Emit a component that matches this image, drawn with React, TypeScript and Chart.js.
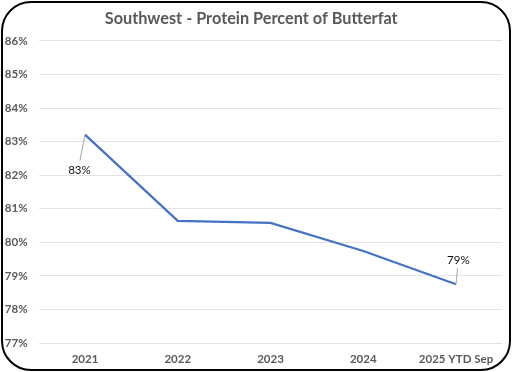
import React, { useEffect, useRef } from "react";
import { Chart, registerables } from "chart.js";

Chart.register(...registerables);

const categories = ["2021", "2022", "2023", "2024", "2025 YTD Sep"];
const proteinPctOfFat = [83.21, 80.64, 80.58, 79.74, 78.75];
const yTicks = [77, 78, 79, 80, 81, 82, 83, 84, 85, 86];
const labelledPoints = [0, 4];
const chartTitle = "Southwest - Protein Percent of Butterfat";

const FONT = "Lato, 'Open Sans', sans-serif";

const dataLabelPlugin = {
  id: "leaderLabels",
  afterDatasetsDraw(chart: any) {
    const meta = chart.getDatasetMeta(0);
    const ctx = chart.ctx;
    ctx.save();
    labelledPoints.forEach((i) => {
      const el = meta.data[i];
      if (!el) return;
      const px = el.x;
      const py = el.y;
      const below = i === 0;
      const lx = below ? px - 5.5 : px + 2.3;
      const ly = below ? py + 36 : py - 23.6;
      const ex = below ? px - 5 : px + 1.5;
      const ey = below ? py + 26 : py - 16;
      ctx.strokeStyle = "#a6a6a6";
      ctx.lineWidth = 1;
      ctx.beginPath();
      ctx.moveTo(px, py);
      ctx.lineTo(ex, ey);
      ctx.stroke();
      ctx.fillStyle = "#111111";
      ctx.font = `11.5px ${FONT}`;
      ctx.textAlign = "center";
      ctx.textBaseline = "middle";
      ctx.fillText(Math.round(proteinPctOfFat[i]) + "%", lx, ly);
    });
    ctx.restore();
  },
};

export default function App() {
  const ref = useRef<HTMLCanvasElement | null>(null);

  useEffect(() => {
    if (!ref.current) return;
    const chart = new Chart(ref.current, {
      type: "line",
      data: {
        labels: categories,
        datasets: [
          {
            data: proteinPctOfFat,
            borderColor: "#4472C4",
            borderWidth: 2.25,
            pointRadius: 0,
            tension: 0,
            fill: false,
          },
        ],
      },
      options: {
        animation: false,
        responsive: false,
        devicePixelRatio: 1,
        layout: { padding: { left: 0, right: 9.6, top: 0, bottom: 0 } },
        plugins: {
          legend: { display: false },
          tooltip: { enabled: false },
          title: {
            display: true,
            text: chartTitle,
            color: "#595959",
            font: { family: FONT, size: 16.3, weight: "bold" },
            padding: { top: 9.2, bottom: 12.2 },
          },
        },
        scales: {
          x: {
            offset: true,
            grid: { display: false, drawTicks: false },
            border: { display: false },
            ticks: {
              color: "#595959",
              font: { family: FONT, size: 11.5, weight: "bold" },
              padding: 9,
              maxRotation: 0,
              autoSkip: false,
            },
            afterFit(scale: any) {
              scale.height = 29;
            },
          },
          y: {
            min: 77,
            max: 86,
            afterBuildTicks(scale: any) {
              scale.ticks = yTicks.map((v) => ({ value: v }));
            },
            grid: { color: "#e3e3e3", lineWidth: 1, drawTicks: false },
            border: { display: false },
            ticks: {
              color: "#595959",
              font: { family: FONT, size: 11.5, weight: "bold" },
              padding: 11,
              callback: (v: any) => v + "%",
            },
            afterFit(scale: any) {
              scale.width = 38.6;
            },
          },
        },
      },
      plugins: [dataLabelPlugin],
    });
    return () => chart.destroy();
  }, []);

  return (
    <div style={{ position: "absolute", left: 0, top: 0, width: 512, height: 372, background: "#fff" }}>
      <canvas ref={ref} width={512} height={372} style={{ position: "absolute", left: 0, top: 0 }} />
      <div
        style={{
          position: "absolute",
          left: 1,
          top: 1,
          width: 510,
          height: 370,
          boxSizing: "border-box",
          border: "2px solid #000",
          borderRadius: 30,
          pointerEvents: "none",
        }}
      />
    </div>
  );
}
